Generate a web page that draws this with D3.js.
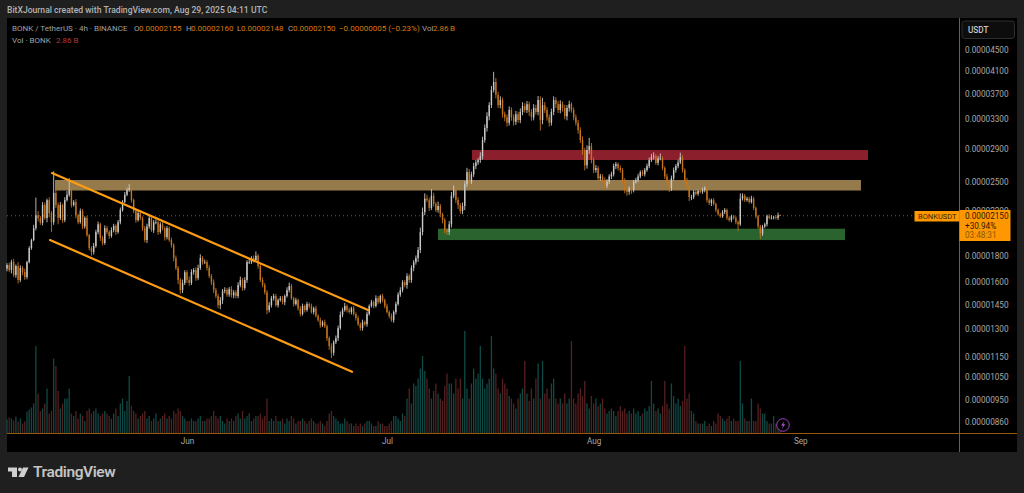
<!DOCTYPE html>
<html><head><meta charset="utf-8">
<script src="https://cdn.jsdelivr.net/npm/d3@7"></script>
<style>
html,body{margin:0;padding:0;background:#1f1f1f;overflow:hidden}
svg{display:block}
text{font-family:Roboto,"Noto Sans",sans-serif}
</style></head><body>
<svg id="c" width="1024" height="493"></svg>
<script>
// Prices are in units of 0.00000001 USDT, one bar per 8 hours from 5 May 2025.
const startDate = new Date(Date.UTC(2025,4,5));
const firstOpen = 1700;
const closes = [
1727,1689,1750,1652,1720,1616,1705,1675,1637,1750,1863,1930,2035,2155,2128,2085,2255,2128,2305,2175,
2090,2380,2255,2130,2255,2109,2305,2360,2410,2255,2285,2155,2090,2195,2050,2130,1973,1863,1830,1880,
2000,2070,1948,1905,2035,2000,1965,2017,2055,2000,2090,2205,2285,2360,2410,2430,2305,2195,2109,2175,
2128,2035,1930,2050,2128,2017,2090,2090,2000,2070,2035,1955,2035,1930,1887,1782,1705,1616,1545,1595,
1673,1616,1595,1675,1689,1630,1705,1782,1750,1750,1705,1645,1600,1545,1505,1445,1478,1538,1545,1515,
1552,1510,1530,1505,1580,1616,1560,1616,1750,1750,1782,1766,1800,1720,1616,1580,1530,1414,1445,1490,
1505,1445,1478,1490,1465,1505,1545,1573,1490,1452,1478,1425,1390,1440,1414,1452,1440,1402,1425,1378,
1352,1322,1340,1316,1248,1205,1170,1226,1248,1305,1385,1414,1440,1414,1402,1425,1390,1365,1328,1305,
1340,1328,1390,1440,1465,1440,1490,1465,1505,1478,1440,1402,1378,1352,1402,1452,1515,1545,1600,1580,
1645,1616,1705,1750,1782,1846,2000,2185,2320,2305,2225,2350,2265,2205,2245,2165,2109,2017,2000,2070,
2350,2410,2305,2255,2195,2245,2475,2610,2500,2585,2680,2725,2754,2800,3010,3175,3345,3515,3758,3895,
3680,3515,3595,3375,3330,3250,3439,3330,3265,3375,3289,3410,3500,3439,3530,3410,3330,3470,3410,3595,
3289,3515,3439,3330,3250,3410,3595,3530,3439,3530,3470,3345,3470,3530,3439,3330,3250,3146,3010,2879,
2690,2879,2930,2754,2634,2658,2540,2560,2520,2455,2500,2560,2585,2680,2705,2658,2634,2520,2410,2390,
2430,2410,2500,2520,2560,2610,2585,2634,2680,2754,2790,2800,2720,2775,2775,2658,2560,2500,2430,2540,
2634,2680,2725,2790,2634,2520,2455,2335,2335,2390,2370,2400,2390,2410,2430,2305,2275,2305,2265,2205,
2165,2145,2185,2205,2130,2109,2145,2130,2090,2070,2320,2350,2305,2320,2285,2320,2225,2145,2050,1985,
2050,2070,2145,2130,2130,2135,2130,2155,2150];
const upperWicks = [
15,20,18,25,12,30,20,15,25,10,15,12,30,175,40,20,30,25,15,30,
20,240,40,25,30,15,30,40,130,25,20,30,15,25,20,15,20,10,15,25,
20,25,15,20,25,20,15,25,20,15,20,25,20,30,25,45,25,15,20,25,
25,15,20,25,30,15,20,25,15,20,25,15,20,15,20,15,20,15,15,25,
15,15,25,20,15,20,25,30,15,20,15,20,15,20,15,15,20,15,20,15,
15,20,15,15,20,25,15,20,15,25,15,20,35,15,15,20,15,15,20,15,
15,15,10,15,15,10,20,25,15,10,15,10,15,15,10,15,10,15,10,15,
10,15,10,15,10,10,15,10,15,15,20,15,20,10,15,10,15,10,15,10,
15,10,15,10,15,10,20,15,10,15,10,15,10,15,10,15,15,20,15,15,
20,15,20,15,20,25,40,45,55,40,25,70,30,20,45,20,15,20,15,30,
40,50,25,30,20,35,30,50,35,30,40,30,25,50,45,50,60,45,70,180,
70,50,60,40,40,45,55,40,45,50,40,55,60,45,50,40,45,60,50,65,
60,115,50,45,40,50,60,45,50,60,45,50,45,55,30,40,45,40,40,50,
30,60,110,40,30,35,25,30,25,30,30,25,30,30,25,20,30,25,20,25,
20,25,20,25,30,20,25,25,30,30,40,50,30,30,60,25,20,30,25,30,
30,25,35,55,25,20,25,15,25,20,20,15,20,25,20,15,20,15,20,15,
15,15,20,20,15,15,15,15,15,15,55,25,20,20,20,30,20,15,15,15,
15,15,15,20,25,15,20,25,5];
const lowerWicks = [
20,15,25,15,20,25,15,25,20,15,10,15,10,20,30,20,25,15,40,40,
90,25,30,60,20,25,20,15,20,25,15,30,20,15,25,20,15,20,30,20,
15,20,25,20,15,20,25,15,20,25,15,20,15,10,15,20,25,20,25,15,
20,25,20,25,20,15,25,20,25,15,20,30,20,15,20,25,15,30,25,20,
15,20,20,15,20,20,15,15,20,15,20,15,20,20,15,20,25,25,15,15,
15,15,20,15,15,15,20,15,20,15,15,20,15,20,15,15,15,25,15,15,
15,10,15,10,15,20,10,15,10,15,10,15,15,10,15,10,15,10,15,10,
10,15,10,10,15,20,28,15,10,15,10,15,10,15,10,15,10,15,10,15,
15,10,15,10,10,15,10,15,10,15,15,10,15,10,15,15,10,15,15,15,
25,20,20,25,20,30,25,30,30,20,30,20,25,20,25,30,30,30,25,25,
30,25,30,40,25,30,40,30,40,25,30,35,30,35,40,35,50,60,45,40,
60,45,50,50,60,55,40,50,55,45,40,45,50,40,45,60,50,45,40,50,
150,60,45,50,55,40,50,60,45,50,55,45,60,55,40,45,40,50,40,60,
60,40,50,40,35,30,35,30,30,30,25,25,30,25,35,30,30,35,35,40,
30,40,25,20,25,20,20,25,20,25,25,30,25,30,25,25,30,35,40,30,
25,30,25,20,30,30,25,40,30,20,15,20,15,20,25,25,20,30,15,20,
15,15,15,20,20,15,20,15,20,60,15,20,20,15,15,15,20,20,20,45,
20,15,20,15,15,15,15,20,2];
// Volume in billions of BONK.
const volumes = [
5.6,6.4,6,5.2,6.8,4.8,6,4,4.8,8.8,9.6,10.4,12,35,16,9,10,12,18,8,
9,30,27,17,10,12,14,14,18,8,7,9,6,8,7,5,9,10,8,9,
10,8,7,8,9,8,7,6,8,10,7,12,14,9,13,23,11,9,8,6,
7,8,9,6,7,5,6,8,5,6,7,8,6,7,6,9,8,10,9,7,
6,5,5,6,5,5,6,7,5,5,6,6,7,9,7,6,7,5,4,6,
5,6,5,7,8,6,9,6,7,8,5,6,7,7,8,6,7,14,5,6,
5,7,5,5,6,4,6,5,7,6,4,5,5,6,5,4,5,6,5,4,
4,5,4,3,5,8,9,7,6,5,4,4,6,5,4,4,3,4,3,4,
3,4,5,5,4,3,3,5,4,4,3,3,4,5,7,7,6,5,8,7,
14,18,12,20,19,22,26,31,25,22,18,14,17,20,16,14,13,19,24,20,
20,16,22,18,22,14,41,18,14,20,26,22,24,35,22,18,20,22,39,26,
24,18,16,22,20,18,15,14,12,10,14,16,18,29,16,13,18,14,22,28,
14,29,16,18,14,20,22,14,12,14,12,16,12,14,37,14,12,16,18,15,
21,12,10,15,12,14,11,12,14,10,8,9,10,9,7,9,11,9,10,8,
9,8,10,8,9,7,8,10,9,11,21,12,9,10,8,11,21,12,10,20,
15,12,14,11,13,35,14,16,9,8,5,4,4,4,5,3,4,3,5,4,
8,7,6,5,6,7,5,6,5,5,29,12,6,5,5,14,5,5,12,10,
8,8,5,4,4,7,4,5,2.86];

const priceTicks = [4500,4100,3700,3300,2900,2500,2200,1800,1600,1450,1300,1150,1050,950,860];
const timeTicks = [[2025,5,"Jun"],[2025,6,"Jul"],[2025,7,"Aug"],[2025,8,"Sep"]];
const lastPrice = 2150;
// Zones: [start day offset, end day offset, upper price, lower price]
const tanZone = [7.2,128.1,2520,2405];
const redZone = [69.75,129.15,2879,2754];
const greenZone = [64.65,125.7,2030,1930];
// Channel lines: [start day, start price, end day, end price]
const channelUpper = [6.75,2599,54.15,1414];
const channelLower = [6.45,1930,51.75,1075];

const day = 864e5, bar = 8*36e5;
const when = d => new Date(+startDate + d*day);
const svg = d3.select("#c");
const x = d3.scaleTime().domain([startDate, when(152)]).range([7, 1020.3]);
const y = d3.scaleLog().domain([860,4500]).range([422,49.5]);
const v = d3.scaleLinear().domain([0,40]).range([433.5,333.5]);
const upC="#c8c8c8", dnC="#c4741c";

svg.append("rect").attr("width",1024).attr("height",493).attr("fill","#1f1f1f");
svg.append("rect").attr("x",7).attr("y",18).attr("width",1010).attr("height",434).attr("fill","#000");

const rows = closes.map((c,i)=>{
  const o = i? closes[i-1]:firstOpen;
  return {t:new Date(+startDate+i*bar),o,c,h:Math.max(o,c)+upperWicks[i],l:Math.min(o,c)-lowerWicks[i],vol:volumes[i]};
});

// volume
svg.append("g").selectAll("rect").data(rows).join("rect")
 .attr("x",d=>x(d.t)-.65).attr("width",1.3)
 .attr("y",d=>v(d.vol)).attr("height",d=>v(0)-v(d.vol))
 .attr("fill",d=>d.c>=d.o?"#0f4a45":"#552020");

// price line
svg.append("line").attr("x1",7).attr("x2",914).attr("y1",y(lastPrice)).attr("y2",y(lastPrice))
 .attr("stroke","#8f5208").attr("stroke-width",1).attr("stroke-dasharray","1 3");

// zones
[[tanZone,"#957a4c"],[redZone,"#8c1f2c"],[greenZone,"#2a632e"]].forEach(([z,f])=>{
  svg.append("rect").attr("x",x(when(z[0]))).attr("width",x(when(z[1]))-x(when(z[0])))
   .attr("y",y(z[2])).attr("height",y(z[3])-y(z[2])).attr("fill",f);
});

// candles
const cg = svg.append("g");
cg.selectAll("line").data(rows).join("line")
 .attr("x1",d=>x(d.t)).attr("x2",d=>x(d.t)).attr("y1",d=>y(d.h)).attr("y2",d=>y(d.l))
 .attr("stroke",d=>d.c>=d.o?upC:dnC).attr("stroke-width",.9);
cg.selectAll("rect").data(rows).join("rect")
 .attr("x",d=>x(d.t)-.7).attr("width",1.4)
 .attr("y",d=>y(Math.max(d.o,d.c))).attr("height",d=>Math.max(.6,y(Math.min(d.o,d.c))-y(Math.max(d.o,d.c))))
 .attr("fill",d=>d.c>=d.o?upC:dnC);

// channels
[channelUpper,channelLower].forEach(l=>{
  svg.append("line").attr("x1",x(when(l[0]))).attr("y1",y(l[1])).attr("x2",x(when(l[2]))).attr("y2",y(l[3]))
   .attr("stroke","#ff9d12").attr("stroke-width",2.2).attr("stroke-linecap","round");
});

// axes frame
const frame="#96590c";
svg.append("line").attr("x1",7).attr("x2",1017).attr("y1",433.5).attr("y2",433.5).attr("stroke",frame);
svg.append("line").attr("x1",959.5).attr("x2",959.5).attr("y1",18).attr("y2",452).attr("stroke",frame);

// y axis
const ya = svg.append("g").attr("transform","translate(959.5,0)")
 .call(d3.axisRight(y).tickValues(priceTicks).tickSize(0).tickPadding(5.5)
   .tickFormat(p=>(p/1e8).toFixed(8)));
ya.select(".domain").remove();
ya.selectAll("text").attr("fill","#a8a8a8").attr("font-size",8.2).attr("font-family","Roboto");

// x axis
const xa = svg.append("g").attr("transform","translate(0,433.5)")
 .call(d3.axisBottom(x).tickValues(timeTicks.map(t=>new Date(Date.UTC(t[0],t[1],1))))
   .tickSize(0).tickPadding(5).tickFormat((d,i)=>timeTicks[i][2]));
xa.select(".domain").remove();
xa.selectAll("text").attr("fill","#a8a8a8").attr("font-size",8.2).attr("font-family","Roboto");

// header
svg.append("text").attr("x",7).attr("y",13).attr("fill","#b4b4b4").attr("font-size",8.6).attr("font-weight",500)
 .text("BitXJournal created with TradingView.com, Aug 29, 2025 04:11 UTC");
const leg = svg.append("text").attr("x",12).attr("y",31).attr("font-size",8).attr("xml:space","preserve");
const gray="#a0a0a0", org="#d9780f";
[["BONK / TetherUS · 4h · BINANCE",gray,12],["O",gray,134],["0.00002155",org,139],["H",gray,186],["0.00002160",org,191],["L",gray,237],["0.00002148",org,241],["C",gray,288],["0.00002150",org,293],
 ["−0.00000005 (−0.23%)",org,339],["Vol",gray,422],["2.86",org,433],["B",org,450]].forEach(([s,f,px])=>{
  leg.append("tspan").attr("x",px).attr("fill",f).text(s);
});
svg.append("text").attr("x",12).attr("y",42.5).attr("font-size",8).attr("fill",gray).text("Vol · BONK");
svg.append("text").attr("x",56).attr("y",42.5).attr("font-size",8).attr("fill","#b5383a").text("2.86 B");

// USDT button
svg.append("rect").attr("x",962).attr("y",21).attr("width",52.5).attr("height",17.5).attr("rx",2.5).attr("fill","#0d0d0d").attr("stroke","#2e2e2e");
svg.append("text").attr("x",968).attr("y",33).attr("font-size",8.2).attr("fill","#c8c8c8").attr("font-weight",500).text("USDT");

// last price tags
svg.append("rect").attr("x",914.5).attr("y",211).attr("width",45).attr("height",10.5).attr("fill","#ff9800");
svg.append("text").attr("x",918).attr("y",219.3).attr("font-size",7.5).attr("fill","#3a2500").text("BONKUSDT");
svg.append("rect").attr("x",959.5).attr("y",210).attr("width",51).attr("height",31).attr("fill","#ff9800");
svg.append("text").attr("x",965).attr("y",219).attr("font-size",8.2).attr("fill","#2a1a00").text((lastPrice/1e8).toFixed(8));
svg.append("text").attr("x",965).attr("y",228.5).attr("font-size",8.2).attr("fill","#2a1a00").text("+30.94%");
svg.append("text").attr("x",965).attr("y",238).attr("font-size",8.2).attr("fill","#8a5608").text("03:48:31");

// bolt badge
svg.append("circle").attr("cx",783).attr("cy",425).attr("r",6.3).attr("fill","#000").attr("stroke","#9c3fc0").attr("stroke-width",1);
svg.append("path").attr("d","M784.5 421 L781 425.6 L783 425.6 L781.8 429 L785.2 424.2 L783.2 424.2 Z").attr("fill","#b04fd6");

// TradingView logo
svg.append("path").attr("d","M8 467.5 H17 V477 H12 V471.5 H8 Z").attr("fill","#d0d0d0");
svg.append("circle").attr("cx",20).attr("cy",469.5).attr("r",2).attr("fill","#d0d0d0");
svg.append("path").attr("d","M23 467.5 H28.5 L24 477 H18.5 Z").attr("fill","#d0d0d0");
svg.append("text").attr("x",33).attr("y",477).attr("font-size",15.5).attr("font-weight",600).attr("font-family","Inter")
 .attr("fill","#c4c4c4").attr("letter-spacing","-.4").text("TradingView");
</script>
</body></html>
